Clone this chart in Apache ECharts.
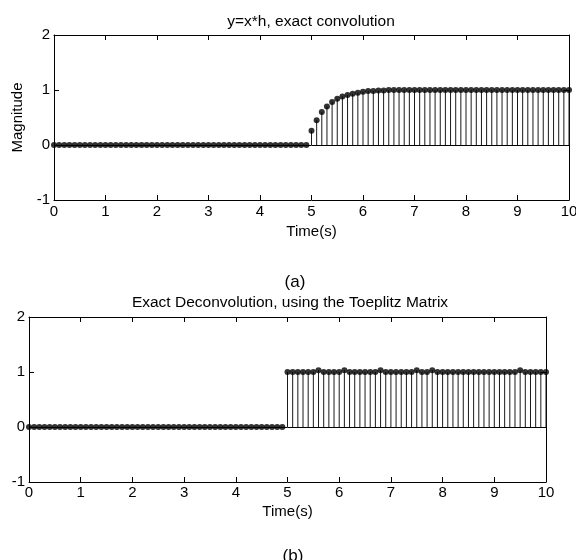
<!DOCTYPE html>
<html>
<head>
<meta charset="utf-8">
<script src="https://cdn.jsdelivr.net/npm/echarts@6/dist/echarts.min.js"></script>
<style>
  html, body { margin: 0; padding: 0; background: #fff; }
  #chart { width: 576px; height: 560px; }
</style>
</head>
<body>
<div id="chart"></div>
<script>
// sample times (s)
var timeS = [
  0, 0.1, 0.2, 0.3, 0.4, 0.5, 0.6, 0.7, 0.8, 0.9,
  1, 1.1, 1.2, 1.3, 1.4, 1.5, 1.6, 1.7, 1.8, 1.9,
  2, 2.1, 2.2, 2.3, 2.4, 2.5, 2.6, 2.7, 2.8, 2.9,
  3, 3.1, 3.2, 3.3, 3.4, 3.5, 3.6, 3.7, 3.8, 3.9,
  4, 4.1, 4.2, 4.3, 4.4, 4.5, 4.6, 4.7, 4.8, 4.9,
  5, 5.1, 5.2, 5.3, 5.4, 5.5, 5.6, 5.7, 5.8, 5.9,
  6, 6.1, 6.2, 6.3, 6.4, 6.5, 6.6, 6.7, 6.8, 6.9,
  7, 7.1, 7.2, 7.3, 7.4, 7.5, 7.6, 7.7, 7.8, 7.9,
  8, 8.1, 8.2, 8.3, 8.4, 8.5, 8.6, 8.7, 8.8, 8.9,
  9, 9.1, 9.2, 9.3, 9.4, 9.5, 9.6, 9.7, 9.8, 9.9,
  10
];

// (a) y = x*h
var convY = [
  0, 0, 0, 0, 0, 0, 0, 0, 0, 0,
  0, 0, 0, 0, 0, 0, 0, 0, 0, 0,
  0, 0, 0, 0, 0, 0, 0, 0, 0, 0,
  0, 0, 0, 0, 0, 0, 0, 0, 0, 0,
  0, 0, 0, 0, 0, 0, 0, 0, 0, 0,
  0.26, 0.45, 0.60, 0.70, 0.78, 0.84, 0.88, 0.91, 0.93, 0.95,
  0.97, 0.98, 0.98, 0.99, 0.99, 1, 1, 1, 1, 1,
  1, 1, 1, 1, 1, 1, 1, 1, 1, 1,
  1, 1, 1, 1, 1, 1, 1, 1, 1, 1,
  1, 1, 1, 1, 1, 1, 1, 1, 1, 1,
  1
];

// (b) deconvolution result
var deconvY = [
  0, 0, 0, 0, 0, 0, 0, 0, 0, 0,
  0, 0, 0, 0, 0, 0, 0, 0, 0, 0,
  0, 0, 0, 0, 0, 0, 0, 0, 0, 0,
  0, 0, 0, 0, 0, 0, 0, 0, 0, 0,
  0, 0, 0, 0, 0, 0, 0, 0, 0, 0,
  1, 1, 1, 1, 1, 1, 1.03, 1, 1, 1,
  1, 1.03, 1, 1, 1, 1, 1, 1, 1.03, 1,
  1, 1, 1, 1, 1, 1.03, 1, 1, 1.03, 1,
  1, 1, 1, 1, 1, 1, 1, 1, 1, 1,
  1, 1, 1, 1, 1, 1.03, 1, 1, 1, 1,
  1
];

var xTicks = [0, 10, 1];    // min, max, step
var yTicks = [-1, 2, 1];

var FONT = '"Liberation Sans", Arial, sans-serif';

function pairs(ys) {
  return timeS.map(function (t, i) { return [t, ys[i]]; });
}

function xAx(grid, pos, labels, margin, gap) {
  return {
    type: 'value', gridIndex: grid, position: pos,
    min: xTicks[0], max: xTicks[1], interval: xTicks[2],
    name: labels ? 'Time(s)' : '', nameLocation: 'middle', nameGap: gap,
    nameTextStyle: { color: '#000', fontSize: 15, fontFamily: FONT },
    axisLine: { onZero: false, lineStyle: { color: '#000', width: 1 } },
    axisTick: { inside: true, length: 5, lineStyle: { color: '#000' } },
    axisLabel: { show: labels, color: '#000', fontSize: 15, fontFamily: FONT, margin: margin },
    splitLine: { show: false }
  };
}

function yAx(grid, pos, labels, gap) {
  return {
    type: 'value', gridIndex: grid, position: pos,
    min: yTicks[0], max: yTicks[1], interval: yTicks[2],
    name: labels ? 'Magnitude' : '', nameLocation: 'middle', nameGap: gap,
    nameTextStyle: { color: '#000', fontSize: 15, fontFamily: FONT },
    axisLine: { onZero: false, lineStyle: { color: '#000', width: 1 } },
    axisTick: { inside: true, length: 5, lineStyle: { color: '#000' } },
    axisLabel: { show: labels, color: '#000', fontSize: 15, fontFamily: FONT, margin: 4 },
    splitLine: { show: false }
  };
}

function stems(axis, ys) {
  return {
    type: 'bar', xAxisIndex: axis, yAxisIndex: axis,
    data: pairs(ys), barWidth: 1, silent: true,
    itemStyle: { color: '#1a1a1a' },
    markLine: {
      silent: true, symbol: 'none', label: { show: false },
      lineStyle: { color: '#000', width: 1, type: 'solid' },
      data: [{ yAxis: 0 }]
    }
  };
}

function heads(axis, ys) {
  return {
    type: 'scatter', xAxisIndex: axis, yAxisIndex: axis,
    data: pairs(ys), symbolSize: 6, clip: false, silent: true,
    itemStyle: { color: '#000' }
  };
}

var titleStyle = { color: '#000', fontSize: 15.5, fontWeight: 'normal', fontFamily: FONT };
var capStyle = { color: '#000', fontSize: 17, fontWeight: 'normal', fontFamily: FONT };

var chart = echarts.init(document.getElementById('chart'));
chart.setOption({
  animation: false,
  backgroundColor: '#fff',
  title: [
    { text: 'y=x*h, exact convolution', left: 306, top: 9, textAlign: 'center', textStyle: titleStyle },
    { text: '(a)', left: 290, top: 269, textAlign: 'center', textStyle: capStyle },
    { text: 'Exact Deconvolution, using the Toeplitz Matrix', left: 285, top: 290, textAlign: 'center', textStyle: titleStyle },
    { text: '(b)', left: 288, top: 543, textAlign: 'center', textStyle: capStyle }
  ],
  grid: [
    { left: 54, width: 515, top: 35, height: 165, outerBoundsMode: 'none' },
    { left: 29, width: 517, top: 317, height: 165, outerBoundsMode: 'none' }
  ],
  xAxis: [
    xAx(0, 'bottom', true, 4, 24), xAx(0, 'top', false, 4, 24),
    xAx(1, 'bottom', true, 3, 22), xAx(1, 'top', false, 3, 22)
  ],
  yAxis: [
    yAx(0, 'left', true, 27), yAx(0, 'right', false, 27),
    yAx(1, 'left', true, 25), yAx(1, 'right', false, 25)
  ],
  series: [
    stems(0, convY), heads(0, convY),
    stems(2, deconvY), heads(2, deconvY)
  ]
});
</script>
</body>
</html>
